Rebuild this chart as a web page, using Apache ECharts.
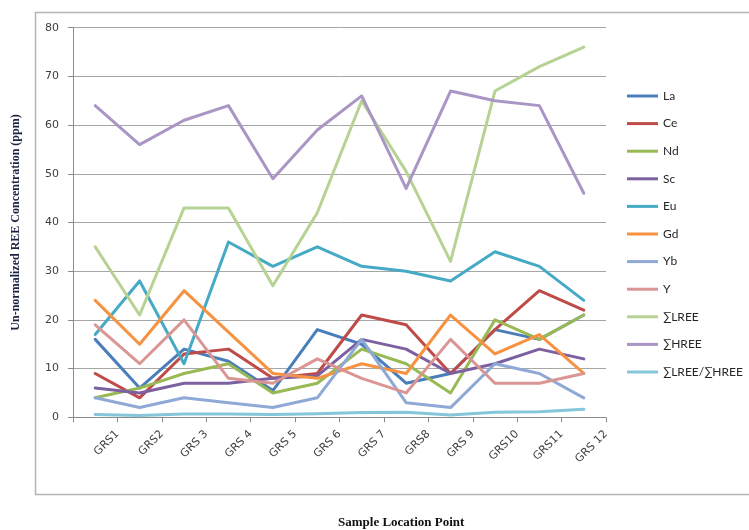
<!DOCTYPE html>
<html>
<head>
<meta charset="utf-8">
<script src="https://cdn.jsdelivr.net/npm/echarts@6/dist/echarts.min.js"></script>
<style>html,body{margin:0;padding:0;background:#fff}#c{width:749px;height:530px}</style>
</head>
<body>
<div id="c"></div>
<script>
var categories = ['GRS1','GRS2','GRS 3','GRS 4','GRS 5','GRS 6','GRS 7','GRS8','GRS 9','GRS10','GRS11','GRS 12'];
var yTicks = [0,10,20,30,40,50,60,70,80];
var La    = [16, 6, 14, 11.5, 5.5, 18, 15, 7, 9, 18, 16, 21];
var Ce    = [9, 4, 13, 14, 8, 9, 21, 19, 9, 18, 26, 22];
var Nd    = [4, 6, 9, 11, 5, 7, 14, 11, 5, 20, 16, 21];
var Sc    = [6, 5, 7, 7, 8, 8.5, 16, 14, 9, 11, 14, 12];
var Eu    = [17, 28, 11, 36, 31, 35, 31, 30, 28, 34, 31, 24];
var Gd    = [24, 15, 26, 17.5, 9, 8, 11, 9, 21, 13, 17, 9];
var Yb    = [4, 2, 4, 3, 2, 4, 16, 3, 2, 11, 9, 4];
var Y     = [19, 11, 20, 8, 7, 12, 8, 5, 16, 7, 7, 9];
var LREE  = [35, 21, 43, 43, 27, 42, 65, 50.5, 32, 67, 72, 76];
var HREE  = [64, 56, 61, 64, 49, 59, 66, 47, 67, 65, 64, 46];
var RATIO = [0.55, 0.38, 0.7, 0.67, 0.55, 0.71, 0.98, 1.06, 0.48, 1.03, 1.13, 1.65];

var seriesNames = ['La','Ce','Nd','Sc','Eu','Gd','Yb','Y','\u2211LREE','\u2211HREE','\u2211LREE/\u2211HREE'];
var seriesData = [La, Ce, Nd, Sc, Eu, Gd, Yb, Y, LREE, HREE, RATIO];
var colors = ['#4A7EBB','#BE4B48','#98B954','#7D60A0','#46AAC5','#F69240','#8EA9D6','#D99694','#B6D393','#A996C4','#85C6DA'];

var chart = echarts.init(document.getElementById('c'), null, {renderer:'canvas'});
var series = seriesNames.map(function(n, i){
  return {
    name: n, type: 'line', data: seriesData[i], xAxisIndex: 0,
    symbol: 'none', smooth: false, animation: false,
    lineStyle: {width: 3, color: colors[i], cap: 'round', join: 'round'},
    itemStyle: {color: colors[i]}
  };
});
chart.setOption({
  animation: false,
  backgroundColor: '#fff',
  graphic: [{
    type: 'rect', z: -10, silent: true,
    shape: {x: 35.5, y: 12.5, width: 760, height: 482},
    style: {fill: 'none', stroke: '#b4b4b4', lineWidth: 1.5}
  }],
  title: {
    text: 'Sample Location Point', left: 338, top: 516, padding: 0,
    textStyle: {fontFamily: 'Liberation Serif', fontWeight: 'bold', fontSize: 13, color: '#111'}
  },
  legend: {
    orient: 'vertical', left: 627, top: 90, padding: 0,
    icon: 'rect', itemWidth: 31, itemHeight: 3, itemGap: 15.6,
    textStyle: {fontFamily: 'Lato, DejaVu Sans', fontSize: 12, color: '#262626'},
    data: seriesNames
  },
  grid: {left: 73, top: 27.7, width: 533, height: 389.6, containLabel: false, outerBoundsMode: 'none'},
  xAxis: [{
    type: 'category', data: categories, boundaryGap: true, position: 'bottom',
    axisLine: {show: true, lineStyle: {color: '#8c8c8c', width: 1}},
    axisTick: {show: true, interval: 0, length: 5, lineStyle: {color: '#8c8c8c'}},
    axisLabel: {show: false},
    splitLine: {show: false}
  }, {
    type: 'category', data: [''].concat(categories), boundaryGap: false, position: 'bottom',
    axisLine: {show: false}, axisTick: {show: false}, splitLine: {show: false},
    axisLabel: {show: true, interval: 0, rotate: 45, margin: 15,
      fontFamily: 'DejaVu Sans', fontSize: 11, color: '#404040'}
  }],
  yAxis: {
    type: 'value', min: 0, max: 80, interval: 10,
    name: 'Un-normalized REE Concentration (ppm)', nameLocation: 'middle', nameGap: 51,
    nameTextStyle: {fontFamily: 'Liberation Serif', fontWeight: 'bold', fontSize: 12, color: '#1c2340'},
    axisLine: {show: true, lineStyle: {color: '#8c8c8c', width: 1}},
    axisTick: {show: true, length: 5, lineStyle: {color: '#8c8c8c'}},
    axisLabel: {margin: 14, fontFamily: 'DejaVu Sans', fontSize: 11, color: '#404040',
      formatter: function(v){ return yTicks.indexOf(v) >= 0 ? String(v) : ''; }},
    splitLine: {show: true, lineStyle: {color: '#a6a6a6', width: 1}}
  },
  series: series
});
</script>
</body>
</html>
